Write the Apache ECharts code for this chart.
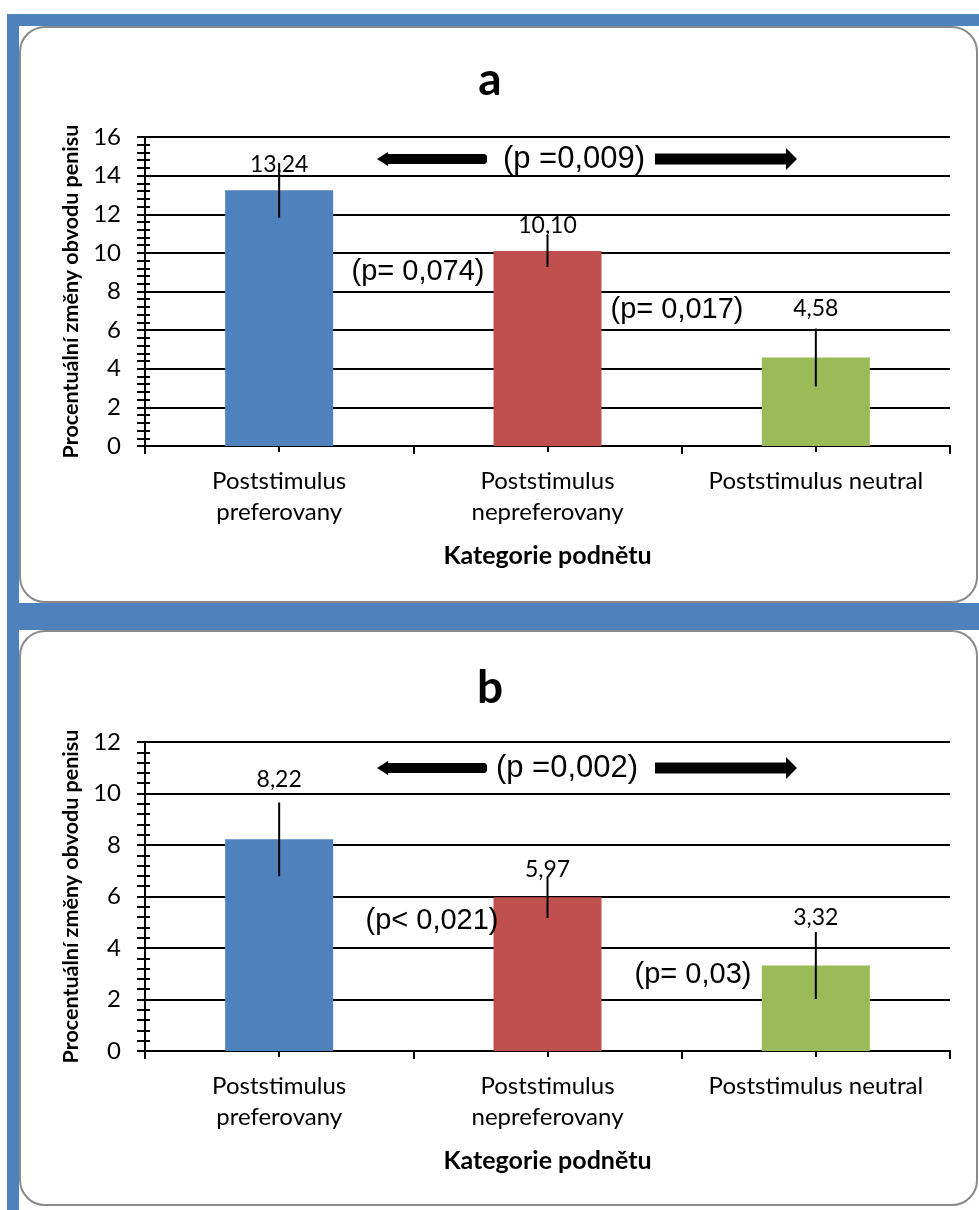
<!DOCTYPE html>
<html>
<head>
<meta charset="utf-8">
<script src="https://cdn.jsdelivr.net/npm/echarts@6/dist/echarts.min.js"></script>
<style>
  html, body { margin: 0; padding: 0; background: #fff; }
  #wrap { position: relative; width: 979px; height: 1210px; overflow: hidden; background: #fff; }
  .blue { position: absolute; background: #4F81BD; }
  .panel { position: absolute; box-sizing: border-box; border: 2px solid #8a8a8a; border-radius: 26px; background: #fff; }
  #chart { position: absolute; left: 0; top: 0; width: 979px; height: 1210px; }
</style>
</head>
<body>
<div id="wrap">
  <div class="blue" style="left:7px; top:14px; width:972px; height:12px;"></div>
  <div class="blue" style="left:7px; top:14px; width:12px; height:1196px;"></div>
  <div class="blue" style="left:7px; top:603px; width:972px; height:27px;"></div>
  <div class="panel" style="left:19px; top:26px; width:959px; height:577px;"></div>
  <div class="panel" style="left:19px; top:630px; width:959px; height:576px;"></div>
  <div id="chart"></div>
</div>
<script>
// ---- data ----
const categories = ['Poststimulus\npreferovany', 'Poststimulus\nnepreferovany', 'Poststimulus neutral'];
const barColors = ['#4F81BD', '#C0504D', '#9BBB59'];
const valuesA = [13.24, 10.10, 4.58];
const errorsA = [1.42, 0.83, 1.5];
const valuesB = [8.22, 5.97, 3.32];
const errorsB = [1.43, 0.8, 1.3];
const yMaxA = 16, yMaxB = 12, yStep = 2;
const titles = ['a', 'b'];
const yName = 'Procentuální změny obvodu penisu';
const xName = 'Kategorie podnětu';
const pTopA = '(p =0,009)', pLeftA = '(p= 0,074)', pRightA = '(p= 0,017)';
const pTopB = '(p =0,002)', pLeftB = '(p< 0,021)', pRightB = '(p= 0,03)';

// ---- chart ----
const chart = echarts.init(document.getElementById('chart'), null, { renderer: 'canvas' });
const FONT = 'Lato';
const black = '#000';
const lineS = { color: black, width: 2 };

const grids = [
  { left: 145, top: 137, width: 805, height: 309 },
  { left: 145, top: 742, width: 805, height: 309 }
];

const xAxes = [], yAxes = [], series = [];
const panels = [
  { values: valuesA, errors: errorsA, max: yMaxA, labelDist: [14, 14, 37] },
  { values: valuesB, errors: errorsB, max: yMaxB, labelDist: [48, 16, 36] }
];

panels.forEach((p, g) => {
  // main x axis (boundary ticks)
  xAxes.push({
    type: 'category', gridIndex: g, data: categories, position: 'bottom',
    axisLine: { show: true, lineStyle: lineS },
    axisTick: { show: true, length: 8, lineStyle: lineS },
    axisLabel: { color: black, fontFamily: FONT, fontSize: 24, lineHeight: 31, margin: 20, interval: 0 },
    splitLine: { show: false },
    name: xName, nameLocation: 'middle', nameGap: 97,
    nameTextStyle: { color: black, fontFamily: FONT, fontWeight: 'bold', fontSize: 25 }
  });
  // center cross ticks
  [true, false].forEach(inside => {
    xAxes.push({
      type: 'category', gridIndex: g, data: categories, position: 'bottom',
      axisLine: { show: false },
      axisTick: { show: true, alignWithLabel: true, inside: inside, length: 6, lineStyle: lineS },
      axisLabel: { show: false }, splitLine: { show: false }
    });
  });
  yAxes.push({
    type: 'value', gridIndex: g, min: 0, max: p.max, interval: yStep, position: 'left',
    axisLine: { show: true, lineStyle: lineS },
    axisTick: { show: true, length: 8, lineStyle: lineS },
    minorTick: { show: true, splitNumber: 5, length: 8, lineStyle: lineS },
    splitLine: { show: true, lineStyle: { color: black, width: 2 } },
    axisLabel: { color: black, fontFamily: FONT, fontSize: 24, margin: 24 },
    name: yName, nameLocation: 'middle', nameGap: 62, nameRotate: 90,
    nameTextStyle: { color: black, fontFamily: FONT, fontWeight: 'bold', fontSize: 21.5 }
  });
  yAxes.push({
    type: 'value', gridIndex: g, min: 0, max: p.max, interval: yStep, position: 'left',
    axisLine: { show: false },
    axisTick: { show: true, inside: true, length: 5, lineStyle: lineS },
    minorTick: { show: true, splitNumber: 5, length: 5, lineStyle: lineS },
    splitLine: { show: false }, axisLabel: { show: false }
  });

  series.push({
    type: 'bar', xAxisIndex: g * 3, yAxisIndex: g * 2, barWidth: 108, z: 2,
    data: p.values.map((v, i) => ({
      value: v, itemStyle: { color: barColors[i] },
      label: { distance: p.labelDist[i] }
    })),
    label: {
      show: true, position: 'top', color: black, fontFamily: FONT, fontSize: 23,
      formatter: (d) => d.value.toFixed(2).replace('.', ',')
    }
  });
  series.push({
    type: 'custom', xAxisIndex: g * 3, yAxisIndex: g * 2, z: 5,
    encode: { x: 0, y: [1, 2] },
    data: p.values.map((v, i) => [i, v - p.errors[i], v + p.errors[i]]),
    renderItem: (params, api) => {
      const a = api.coord([api.value(0), api.value(1)]);
      const b = api.coord([api.value(0), api.value(2)]);
      return { type: 'line', shape: { x1: a[0], y1: a[1], x2: b[0], y2: b[1] }, style: { stroke: black, lineWidth: 2 } };
    }
  });
});

function txt(x, y, text, size, family, bold) {
  return { type: 'text', x: x, y: y, z: 20,
    style: { text: text, fill: black, fontSize: size, fontFamily: family, fontWeight: bold ? 'bold' : 'normal', align: 'center', verticalAlign: 'middle' } };
}
function arrows(c) {
  return [
    { type: 'polygon', z: 20, shape: { points: [[377, c], [388, c - 7], [388, c - 5], [485, c - 5], [487, c - 3], [487, c + 3], [485, c + 5], [388, c + 5], [388, c + 7]] }, style: { fill: black } },
    { type: 'polygon', z: 20, shape: { points: [[655, c - 5.5], [786, c - 5.5], [786, c - 11], [797, c], [786, c + 11], [786, c + 5.5], [655, c + 5.5]] }, style: { fill: black } }
  ];
}
const AR = 'Liberation Sans';
const graphics = [
  txt(490, 80, titles[0], 46, FONT, true),
  txt(490, 688, titles[1], 46, FONT, true),
  txt(574, 159, pTopA, 31, AR), ...arrows(159),
  txt(418, 272, pLeftA, 29, AR),
  txt(677, 310, pRightA, 29, AR),
  txt(567, 768, pTopB, 31, AR), ...arrows(768),
  txt(432, 921, pLeftB, 29, AR),
  txt(693, 975, pRightB, 29, AR)
];

chart.setOption({
  backgroundColor: 'transparent',
  animation: false,
  grid: grids,
  xAxis: xAxes,
  yAxis: yAxes,
  series: series,
  graphic: { elements: graphics }
});
</script>
</body>
</html>
